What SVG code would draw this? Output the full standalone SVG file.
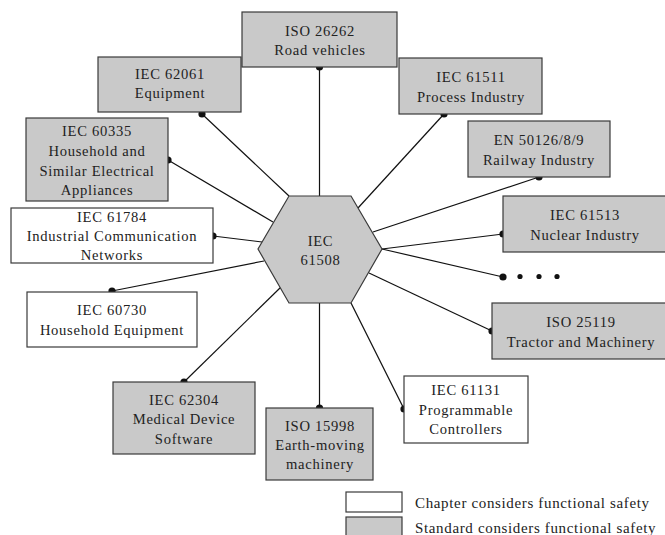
<svg xmlns="http://www.w3.org/2000/svg" width="665" height="535" viewBox="0 0 665 535">
<style>
.box{stroke:#3a3a3a;stroke-width:1.2}
.g{fill:#c9c9c9}
.w{fill:#ffffff}
text{font-family:"Liberation Serif","Times New Roman",serif;font-size:14.6px;letter-spacing:0.7px;fill:#222;text-anchor:middle}
.leg{font-size:15px;letter-spacing:0.65px;text-anchor:start}
.c line{stroke:#111;stroke-width:1.2}
.c circle{fill:#111}
</style>
<rect width="665" height="535" fill="#fff"/>
<g class="c" id="connectors">
<line x1="319.5" y1="67" x2="319.5" y2="196"/><circle cx="319.5" cy="67" r="3.6"/>
<line x1="202" y1="114" x2="289" y2="196"/><circle cx="202" cy="114" r="3.6"/>
<line x1="168" y1="160" x2="273" y2="222"/><circle cx="168" cy="160" r="3.6"/>
<line x1="213" y1="236" x2="262" y2="242"/><circle cx="213" cy="236" r="3.6"/>
<line x1="112" y1="291" x2="264" y2="261"/><circle cx="112" cy="291" r="3.6"/>
<line x1="184" y1="382" x2="281" y2="287"/><circle cx="184" cy="382" r="3.6"/>
<line x1="319.5" y1="303" x2="319.5" y2="408"/><circle cx="319.5" cy="408" r="3.6"/>
<line x1="404" y1="409" x2="351" y2="303"/><circle cx="404" cy="409" r="3.6"/>
<line x1="492" y1="331" x2="369" y2="273"/><circle cx="492" cy="331" r="3.6"/>
<line x1="503" y1="277" x2="382" y2="249"/><circle cx="503" cy="277" r="3.6"/>
<circle cx="520" cy="276.5" r="2.6"/><circle cx="539" cy="276.5" r="2.6"/><circle cx="557" cy="276.5" r="2.6"/>
<line x1="503" y1="234" x2="382" y2="249"/><circle cx="503" cy="234" r="3.6"/>
<line x1="539" y1="177" x2="373" y2="232"/><circle cx="539" cy="177" r="3.6"/>
<line x1="444" y1="114" x2="358" y2="208"/><circle cx="444" cy="114" r="3.6"/>
</g>
<g id="iec61508">
<polygon class="box g" points="289,196 351,196 382,249 351,303 289,303 258,249"/>
<text x="320.5" y="246">IEC</text>
<text x="320.5" y="265">61508</text>
</g>
<g id="iso26262">
<rect class="box g" x="242" y="12" width="155" height="55"/>
<text x="320" y="36">ISO 26262</text>
<text x="320" y="55">Road vehicles</text>
</g>
<g id="iec62061">
<rect class="box g" x="98" y="57" width="143" height="55"/>
<text x="170" y="79">IEC 62061</text>
<text x="170" y="98">Equipment</text>
</g>
<g id="iec60335">
<rect class="box g" x="26" y="118" width="142" height="83"/>
<text x="97" y="136">IEC 60335</text>
<text x="97" y="156">Household and</text>
<text x="97" y="176">Similar Electrical</text>
<text x="97" y="195">Appliances</text>
</g>
<g id="iec61784">
<rect class="box w" x="11" y="208" width="202" height="55"/>
<text x="112" y="222">IEC 61784</text>
<text x="112" y="241">Industrial Communication</text>
<text x="112" y="260">Networks</text>
</g>
<g id="iec60730">
<rect class="box w" x="27" y="292" width="170" height="55"/>
<text x="112" y="315">IEC 60730</text>
<text x="112" y="335">Household Equipment</text>
</g>
<g id="iec62304">
<rect class="box g" x="113" y="382" width="142" height="72"/>
<text x="184" y="405">IEC 62304</text>
<text x="184" y="424">Medical Device</text>
<text x="184" y="444">Software</text>
</g>
<g id="iso15998">
<rect class="box g" x="266" y="408" width="107" height="72"/>
<text x="320" y="431">ISO 15998</text>
<text x="320" y="450">Earth-moving</text>
<text x="320" y="469">machinery</text>
</g>
<g id="iec61131">
<rect class="box w" x="404" y="376" width="124" height="67"/>
<text x="466" y="395">IEC 61131</text>
<text x="466" y="415">Programmable</text>
<text x="466" y="434">Controllers</text>
</g>
<g id="iso25119">
<rect class="box g" x="492" y="303" width="177" height="56"/>
<text x="581" y="327">ISO 25119</text>
<text x="581" y="347">Tractor and Machinery</text>
</g>
<g id="iec61513">
<rect class="box g" x="503" y="196" width="164" height="56"/>
<text x="585" y="220">IEC 61513</text>
<text x="585" y="240">Nuclear Industry</text>
</g>
<g id="en50126">
<rect class="box g" x="468" y="121" width="142" height="56"/>
<text x="539" y="145">EN 50126/8/9</text>
<text x="539" y="165">Railway Industry</text>
</g>
<g id="iec61511">
<rect class="box g" x="399" y="58" width="143" height="56"/>
<text x="471" y="82">IEC 61511</text>
<text x="471" y="102">Process Industry</text>
</g>
<g id="legend">
<rect class="box w" x="346" y="492" width="56" height="20"/>
<rect class="box g" x="346" y="517" width="56" height="22"/>
<text class="leg" x="415" y="508">Chapter considers functional safety</text>
<text class="leg" x="415" y="533">Standard considers functional safety</text>
</g>
</svg>
